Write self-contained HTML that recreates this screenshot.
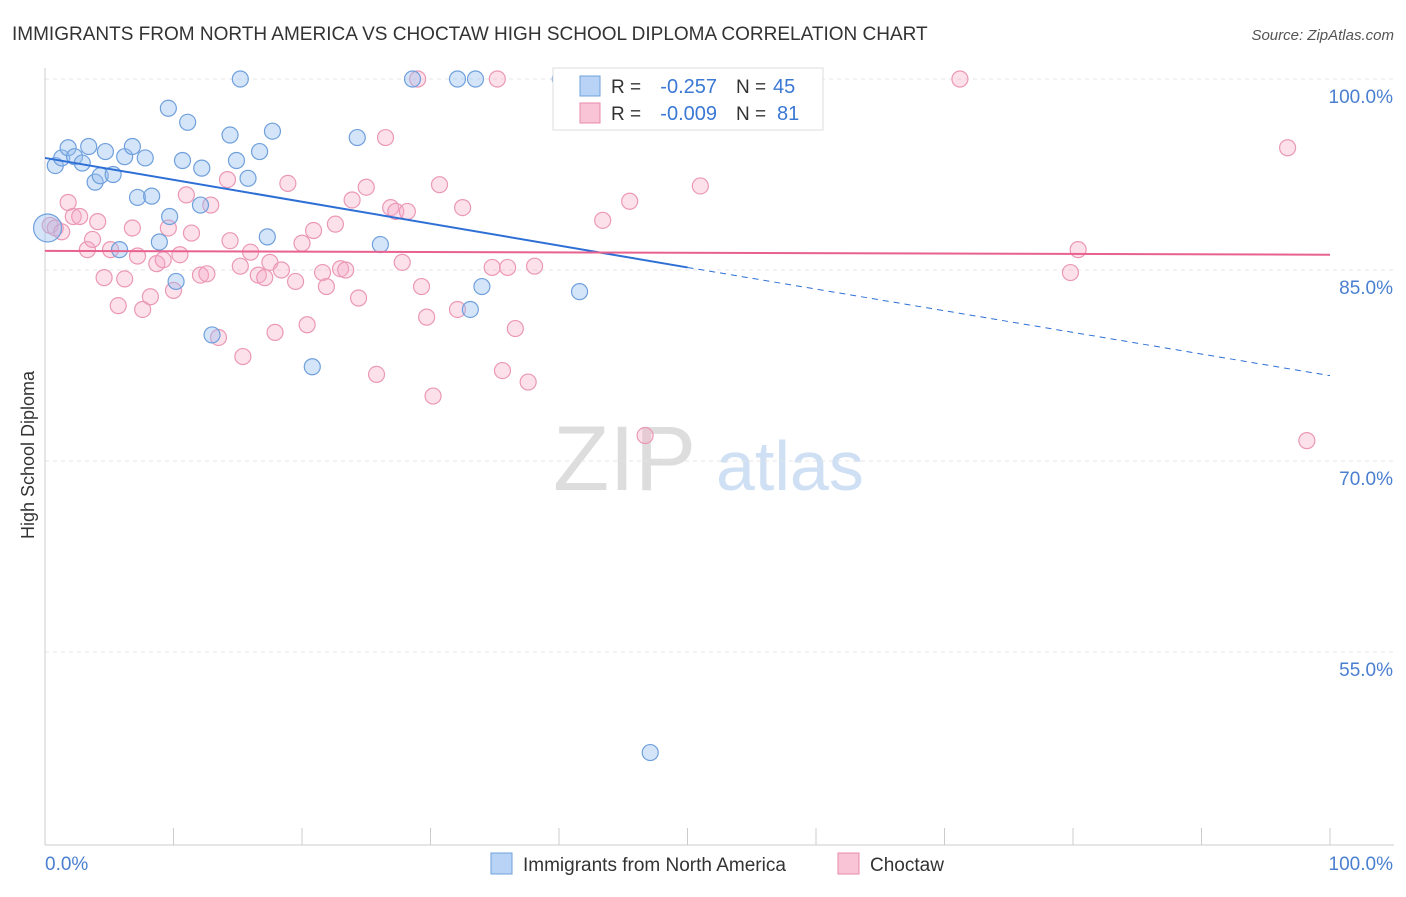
<!DOCTYPE html>
<html><head><meta charset="utf-8"><style>
body{margin:0;background:#fff;font-family:"Liberation Sans",sans-serif;}
svg text{font-family:"Liberation Sans",sans-serif;}
</style></head><body>
<svg id="c" width="1406" height="892" viewBox="0 0 1406 892" xmlns="http://www.w3.org/2000/svg">
<text x="12" y="40" font-size="19" fill="#333">IMMIGRANTS FROM NORTH AMERICA VS CHOCTAW HIGH SCHOOL DIPLOMA CORRELATION CHART</text>
<text x="1394" y="40" font-size="15" fill="#555" text-anchor="end" font-style="italic">Source: ZipAtlas.com</text>
<g><text x="553" y="490" font-size="92" fill="#ddd" font-family="Liberation Serif">ZIP</text><text x="716" y="490" font-size="70" fill="#cfe0f4">atlas</text></g>
<g id="grid"></g><g id="axes"></g><g id="pts"></g><g id="trend"></g>
<text transform="translate(34,455) rotate(-90)" font-size="18" fill="#333" text-anchor="middle">High School Diploma</text>
<g>
<rect x="553" y="68" width="270" height="62" fill="#fff" stroke="#ddd"/>
<rect x="580" y="76" width="20" height="20" fill="#b8d3f5" stroke="#6fa0dc"/>
<rect x="580" y="103" width="20" height="20" fill="#f9c5d6" stroke="#e88aaa"/>
<text x="611" y="93" font-size="19" fill="#333">R =</text>
<text x="717" y="93" font-size="20" fill="#3a78d4" text-anchor="end">-0.257</text>
<text x="736" y="93" font-size="19" fill="#333">N =</text>
<text x="773" y="93" font-size="20" fill="#3a78d4">45</text>
<text x="611" y="120" font-size="19" fill="#333">R =</text>
<text x="717" y="120" font-size="20" fill="#3a78d4" text-anchor="end">-0.009</text>
<text x="736" y="120" font-size="19" fill="#333">N =</text>
<text x="777" y="120" font-size="20" fill="#3a78d4">81</text>
</g>
<g>
<rect x="491" y="853" width="21" height="21" fill="#b8d3f5" stroke="#6fa0dc"/>
<text x="523" y="871" font-size="19" fill="#333">Immigrants from North America</text>
<rect x="838" y="853" width="21" height="21" fill="#f9c5d6" stroke="#e88aaa"/>
<text x="870" y="871" font-size="19" fill="#333">Choctaw</text>
</g>
</svg>
<script>
const yTicks=[100,85,70,55];
const yTickLabels=["100.0%","85.0%","70.0%","55.0%"];
const xTickCount=10;
const blueX=[0.8,1.3,1.8,2.3,2.9,3.4,3.9,4.3,4.7,5.3,5.8,6.2,6.8,7.2,7.8,8.3,8.9,9.6,9.7,10.2,10.7,11.1,12.1,12.2,13.0,14.4,14.9,15.2,15.8,16.7,17.3,17.7,20.8,24.3,26.1,28.6,32.1,33.1,33.5,34.0,40.1,41.6,47.1,50.0,0.2];
const blueY=[93.2,93.8,94.6,93.9,93.4,94.7,91.9,92.4,94.3,92.5,86.6,93.9,94.7,90.7,93.8,90.8,87.2,97.7,89.2,84.1,93.6,96.6,90.1,93.0,79.9,95.6,93.6,100,92.2,94.3,87.6,95.9,77.4,95.4,87.0,100,100,81.9,100,83.7,100,83.3,47.1,100,88.3];
const pinkX=[0.4,0.8,1.3,1.8,2.2,2.7,3.3,3.7,4.1,4.6,5.1,5.7,6.2,6.8,7.2,7.6,8.2,8.7,9.2,9.6,10.0,10.5,11.0,11.4,12.1,12.6,12.9,13.5,14.2,14.4,15.2,15.4,16.0,16.6,17.1,17.5,17.9,18.4,18.9,19.5,20.0,20.4,20.9,21.6,21.9,22.6,23.0,23.4,23.9,24.4,25.0,25.8,26.5,26.9,27.3,27.8,28.2,29.0,29.3,29.7,30.2,30.7,32.1,32.5,34.8,35.2,35.6,36.0,36.6,37.6,38.1,43.4,45.5,46.7,51.0,71.2,79.8,80.4,96.7,98.2];
const pinkY=[88.5,88.3,88.0,90.3,89.2,89.2,86.6,87.4,88.8,84.4,86.6,82.2,84.3,88.3,86.1,81.9,82.9,85.5,85.8,88.3,83.4,86.2,90.9,87.9,84.6,84.7,90.1,79.7,92.1,87.3,85.3,78.2,86.4,84.6,84.4,85.6,80.1,85.0,91.8,84.1,87.1,80.7,88.1,84.8,83.7,88.6,85.1,85.0,90.5,82.8,91.5,76.8,95.4,89.9,89.6,85.6,89.6,100,83.7,81.3,75.1,91.7,81.9,89.9,85.2,100,77.1,85.2,80.4,76.2,85.3,88.9,90.4,72.0,91.6,100,84.8,86.6,94.6,71.6];
const blueTrend=[93.8,85.2,76.7];
const pinkTrend=[86.5,86.2];
const NS="http://www.w3.org/2000/svg";
const X=v=>45+v*12.85, Y=v=>79+(100-v)*12.733;
function mk(t,a,p){const e=document.createElementNS(NS,t);for(const k in a)e.setAttribute(k,a[k]);p.appendChild(e);return e;}
const grid=document.getElementById('grid'),axes=document.getElementById('axes'),pts=document.getElementById('pts'),tr=document.getElementById('trend');
yTicks.forEach((v,i)=>{
 const l=mk('line',{x1:45,x2:1394,y1:Y(v),y2:Y(v),stroke:'#e4e4e4','stroke-dasharray':'4 4'},grid);
 
 
 const t=mk('text',{x:1393,y:Y(v)+24,'font-size':19,fill:'#4a7fd0','text-anchor':'end'},grid);
 t.textContent=yTickLabels[i];
 
 
});
let a=mk('line',{x1:45,x2:45,y1:68,y2:845,stroke:'#ccc'},axes);


a=mk('line',{x1:45,x2:1394,y1:845,y2:845,stroke:'#ccc'},axes);


for(let i=0;i<=xTickCount;i++){
 const tk=mk('line',{x1:X(i*10),x2:X(i*10),y1:828,y2:845,stroke:'#ccc'},axes);
 
 
}
let t=mk('text',{x:45,y:870,'font-size':19,fill:'#4a7fd0'},axes);t.textContent='0.0%';


t=mk('text',{x:1393,y:870,'font-size':19,fill:'#4a7fd0','text-anchor':'end'},axes);t.textContent='100.0%';


pinkX.forEach((x,i)=>{
 const c=mk('circle',{cx:X(x),cy:Y(pinkY[i]),r:8,fill:'rgba(245,170,198,0.35)',stroke:'#eb98b5','stroke-width':1.2},pts);
 
 
});
blueX.forEach((x,i)=>{
 const c=mk('circle',{cx:X(x),cy:Y(blueY[i]),r:(i==blueX.length-1?14:8),fill:'rgba(150,190,240,0.4)',stroke:'#6fa0dc','stroke-width':1.2},pts);
 
 
});
let l=mk('line',{x1:X(0),y1:Y(blueTrend[0]),x2:X(50),y2:Y(blueTrend[1]),stroke:'#2e6fd6','stroke-width':2},tr);


l=mk('line',{x1:X(50),y1:Y(blueTrend[1]),x2:X(100),y2:Y(blueTrend[2]),stroke:'#2e6fd6','stroke-width':1,'stroke-dasharray':'6 5'},tr);


l=mk('line',{x1:X(0),y1:Y(pinkTrend[0]),x2:X(100),y2:Y(pinkTrend[1]),stroke:'#e8618f','stroke-width':2},tr);


</script>
</body></html>
